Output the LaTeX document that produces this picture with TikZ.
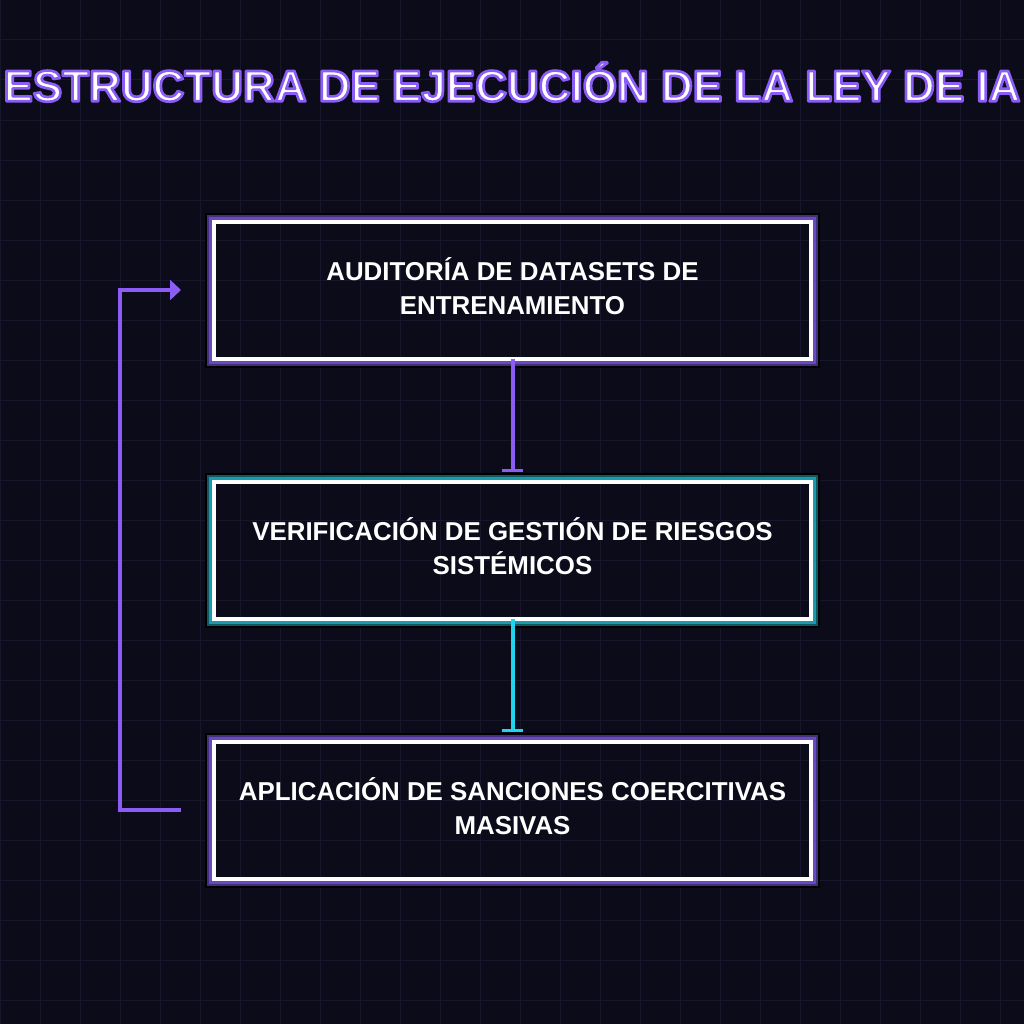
\documentclass[tikz,border=0pt]{standalone}
\usepackage{fontspec}
\setmainfont{Liberation Sans}
\usetikzlibrary{positioning,arrows.meta,calc}

\newdimen\pxu \pxu=0.75pt
\definecolor{bgdark}{HTML}{0B0B19}
\definecolor{gridline}{HTML}{17172C}
\definecolor{violet}{HTML}{8B5CF6}
\definecolor{violetglow}{HTML}{6A48C2}
\definecolor{violetdeep}{HTML}{40307E}
\definecolor{cyanline}{HTML}{22D3EE}
\definecolor{tealglow}{HTML}{1A9AAC}
\definecolor{tealdeep}{HTML}{0E5862}
% outlined text: fill plus violet stroke
\newcommand{\glowtext}[1]{\special{pdf:literal direct 2 Tr 2 w 1 j 0.545 0.361 0.965 RG}#1\special{pdf:literal direct 0 Tr}}

\begin{document}
\begin{tikzpicture}[x=\pxu, y=-\pxu,
    heading/.style={font=\fontsize{33}{40}\selectfont\bfseries, inner sep=0pt, text=white},
    stage/.style={draw=white, line width=4\pxu, outer sep=0pt, minimum width=597\pxu,
      minimum height=137\pxu, text depth=8\pxu, align=center, text=white,
      font=\fontsize{19.4}{25.5}\selectfont\bfseries},
    flow/.style={line width=3pt, shorten >=7.5pt, -{Rectangle[length=1.9pt, width=15.75pt]}},
    loopback/.style={line width=3pt, violet, -{Triangle[length=8.25pt, width=15pt]}},
  ]
  \useasboundingbox (0,0) rectangle (1024,1024);
  % background grid
  \fill[bgdark] (0,0) rectangle (1024,1024);
  \foreach \g in {0,40,...,1000} {
    \draw[gridline, line width=1\pxu] (\g,0) -- (\g,1024);
    \draw[gridline, line width=1\pxu] (0,\g) -- (1024,\g);
  }

  % title
  \node[heading] (title) at (512,82) {\glowtext{ESTRUCTURA DE EJECUCIÓN DE LA LEY DE IA}};

  % stages
  \node[stage] (aud) at (512.5,290) {AUDITORÍA DE DATASETS DE\\ENTRENAMIENTO};
  \node[stage, below=123\pxu of aud] (ver) {VERIFICACIÓN DE GESTIÓN DE RIESGOS\\SISTÉMICOS};
  \node[stage, below=123\pxu of ver] (apl) {APLICACIÓN DE SANCIONES COERCITIVAS\\MASIVAS};

  % glow frames
  \foreach \n/\ca/\cb in {aud/violetglow/violetdeep, ver/tealglow/tealdeep, apl/violetglow/violetdeep} {
    \draw[black, line width=3\pxu] ([shift={(-7.5,-7.5)}]\n.north west) rectangle ([shift={(7.5,7.5)}]\n.south east);
    \draw[\cb, line width=3\pxu] ([shift={(-5.5,-5.5)}]\n.north west) rectangle ([shift={(5.5,5.5)}]\n.south east);
    \draw[\ca, line width=3\pxu] ([shift={(-3.5,-3.5)}]\n.north west) rectangle ([shift={(3.5,3.5)}]\n.south east);
  }

  % connectors
  \draw[flow, violet] (aud) -- (ver);
  \draw[flow, cyanline] (ver) -- (apl);
  \coordinate (loopout) at ([xshift=-33\pxu]apl.west);
  \coordinate (loopin) at ([xshift=-33\pxu]aud.west);
  \draw[loopback] (loopout) -- ++(-61,0) |- (loopin);
\end{tikzpicture}
\end{document}
